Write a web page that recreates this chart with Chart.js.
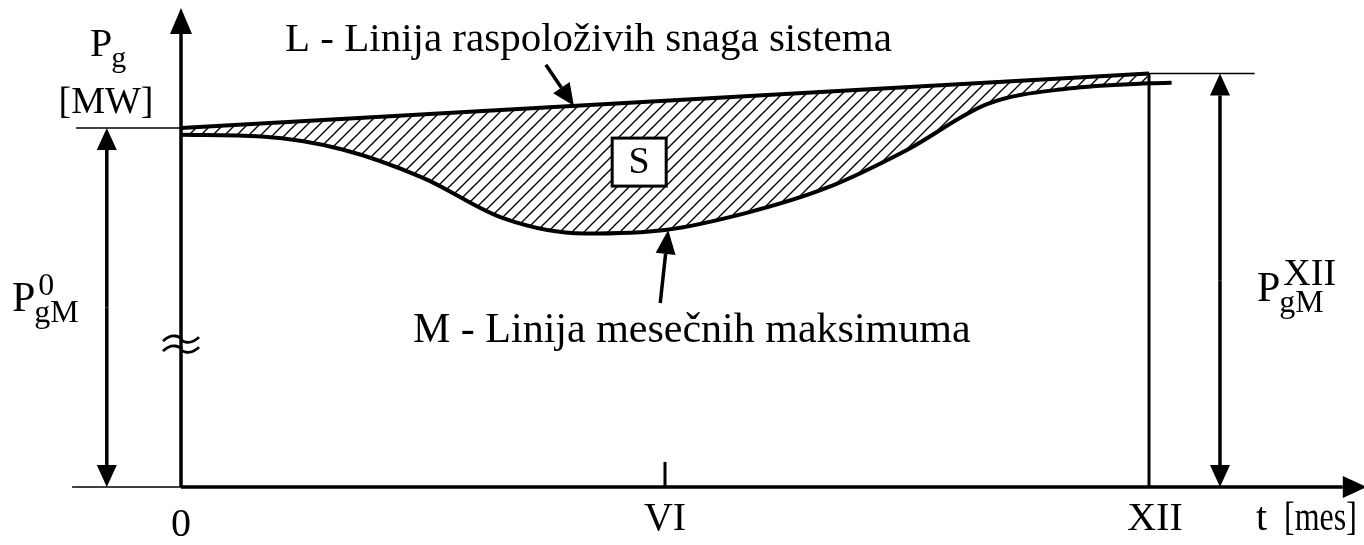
<!DOCTYPE html>
<html>
<head>
<meta charset="utf-8">
<title>Linija raspoloživih snaga</title>
<script src="https://cdn.jsdelivr.net/npm/chart.js@4.4.0/dist/chart.umd.min.js"></script>
<style>
  html, body { margin: 0; padding: 0; background: #fff; }
  canvas { display: block; }
</style>
</head>
<body>
<canvas id="myChart" width="1364" height="545"></canvas>
<script>
// L - linija raspolozivih snaga (mesec, snaga)
const mesecL = [0, 12];
const snagaL = [100, 115.2];

// M - linija mesecnih maksimuma
const mesecM = [0, 1, 2, 3, 4, 5, 6, 7, 8, 9, 10, 11, 12, 12.28];
const snagaM = [98.1, 97.6, 94.0, 86.1, 74.8, 70.6, 71.6, 76.3, 83.3, 93.9, 106.7, 111.0, 112.45, 112.6];

// oznake na vremenskoj osi
const tickMeseci = [0, 6, 12];
const tickOznake = ['0', 'VI', 'XII'];

const FONT = '"Liberation Serif", "Times New Roman", serif';

function napraviSrafuru() {
    const s = 12;
    const c = document.createElement('canvas');
    c.width = s;
    c.height = s;
    const g = c.getContext('2d');
    g.strokeStyle = '#000';
    g.lineWidth = 1.4;
    g.beginPath();
    g.moveTo(0, s); g.lineTo(s, 0);
    g.moveTo(-2, 2); g.lineTo(2, -2);
    g.moveTo(s - 2, s + 2); g.lineTo(s + 2, s - 2);
    g.stroke();
    return g.createPattern(c, 'repeat');
}

function strelica(ctx, x1, y1, x2, y2, sirina, duzina, debljina) {
    const ug = Math.atan2(y2 - y1, x2 - x1);
    const bx = x2 - Math.cos(ug) * duzina;
    const by = y2 - Math.sin(ug) * duzina;
    ctx.lineWidth = debljina;
    ctx.beginPath();
    ctx.moveTo(x1, y1);
    ctx.lineTo(bx, by);
    ctx.stroke();
    ctx.beginPath();
    ctx.moveTo(x2, y2);
    ctx.lineTo(bx + Math.sin(ug) * sirina / 2, by - Math.cos(ug) * sirina / 2);
    ctx.lineTo(bx - Math.sin(ug) * sirina / 2, by + Math.cos(ug) * sirina / 2);
    ctx.closePath();
    ctx.fill();
}

function linija(ctx, x1, y1, x2, y2, debljina) {
    ctx.lineWidth = debljina;
    ctx.beginPath();
    ctx.moveTo(x1, y1);
    ctx.lineTo(x2, y2);
    ctx.stroke();
}

// P sa indeksom i eksponentom
function oznakaP(ctx, x, y, indeks, eksponent, vel, velEksp) {
    ctx.textAlign = 'left';
    ctx.textBaseline = 'alphabetic';
    ctx.font = vel + 'px ' + FONT;
    ctx.fillText('P', x, y);
    const w = ctx.measureText('P').width;
    ctx.font = Math.round(vel * 0.76) + 'px ' + FONT;
    ctx.fillText(indeks, x + w - 1, y + vel * 0.27);
    if (eksponent) {
        ctx.font = (velEksp || Math.round(vel * 0.76)) + 'px ' + FONT;
        ctx.fillText(eksponent, x + w + 3, y - vel * 0.39);
    }
}

const skica = {
    id: 'skica',
    afterDatasetsDraw(chart) {
        const ctx = chart.ctx;
        const X = v => chart.scales.x.getPixelForValue(v);
        const Y = v => chart.scales.y.getPixelForValue(v);
        const p0 = snagaL[0];
        const p12 = snagaL[snagaL.length - 1];

        ctx.save();
        ctx.strokeStyle = '#000';
        ctx.fillStyle = '#000';

        // ose
        linija(ctx, X(-1.35), Y(0), X(0), Y(0), 1.5);
        strelica(ctx, X(0), Y(0), X(14.7), Y(0), 22, 24, 3.5);
        strelica(ctx, X(0), Y(0), X(0), Y(133.4), 22, 26, 3.5);

        // prekid ose
        ctx.lineWidth = 2.8;
        for (const dy of [-5, 5]) {
            const yc = Y(39.8) + dy;
            const xa = X(0) - 18;
            ctx.beginPath();
            ctx.moveTo(xa, yc + 2);
            ctx.bezierCurveTo(xa + 9, yc - 7, xa + 18, yc - 2, xa + 18, yc);
            ctx.bezierCurveTo(xa + 18, yc + 2, xa + 27, yc + 7, xa + 36, yc - 2);
            ctx.stroke();
        }

        // VI i XII
        linija(ctx, X(6), Y(0), X(6), Y(7), 3);
        linija(ctx, X(12), Y(0), X(12), Y(p12), 3);

        // pomocne linije
        linija(ctx, X(-1.30), Y(p0), X(0), Y(p0), 1.5);
        linija(ctx, X(12), Y(p12), X(13.31), Y(p12), 1.5);

        // kote
        strelica(ctx, X(-0.92), Y(p0 / 2), X(-0.92), Y(p0), 20, 22, 3.5);
        strelica(ctx, X(-0.92), Y(p0 / 2), X(-0.92), Y(0), 20, 22, 3.5);
        strelica(ctx, X(12.88), Y(p12 / 2), X(12.88), Y(p12), 20, 22, 3.5);
        strelica(ctx, X(12.88), Y(p12 / 2), X(12.88), Y(0), 20, 22, 3.5);

        // strelice na linijama
        const mL = 4.87;
        const vL = snagaL[0] + (snagaL[1] - snagaL[0]) * mL / 12;
        strelica(ctx, X(mL) - 28, Y(vL) - 41, X(mL), Y(vL), 20, 22, 3.5);
        strelica(ctx, X(6.04) - 8, Y(snagaM[6]) + 73, X(6.04), Y(snagaM[6]), 20, 24, 3.5);

        // S
        const sx = X(5.68), sy = Y(90.5);
        ctx.fillStyle = '#fff';
        ctx.fillRect(sx - 27, sy - 24, 54, 48);
        ctx.lineWidth = 3;
        ctx.strokeRect(sx - 27, sy - 24, 54, 48);
        ctx.fillStyle = '#000';
        ctx.font = '38px ' + FONT;
        ctx.textAlign = 'center';
        ctx.textBaseline = 'middle';
        ctx.fillText('S', sx, sy + 1);

        // tekstovi
        ctx.textBaseline = 'alphabetic';
        ctx.textAlign = 'left';
        ctx.font = '41px ' + FONT;
        ctx.fillText('L - Linija raspoloživih snaga sistema', 285, 51);
        ctx.font = '42px ' + FONT;
        ctx.fillText('M - Linija mesečnih maksimuma', 413, 342);

        ctx.textAlign = 'center';
        ctx.font = '40px ' + FONT;
        tickMeseci.forEach((m, i) => {
            const pomak = m === 12 ? 6 : 0;
            ctx.fillText(tickOznake[i], X(m) + pomak, m === 0 ? 536 : 530);
        });
        ctx.textAlign = 'left';
        ctx.fillText('t', 1256, 530);
        ctx.save();
        ctx.translate(1284, 530);
        ctx.scale(0.8, 1);
        ctx.fillText('[mes]', 0, 0);
        ctx.restore();

        ctx.textAlign = 'center';
        ctx.font = '38px ' + FONT;
        ctx.fillText('[MW]', 106, 113);

        oznakaP(ctx, 90, 56, 'g', null, 40);
        oznakaP(ctx, 12, 311, 'gM', '0', 42);
        oznakaP(ctx, 1257, 301, 'gM', 'XII', 42, 38);

        ctx.restore();
    }
};

// skale: 0 -> x=181, XII -> x=1149, P=0 -> y=487
const pxMesec = (1149 - 181) / 12;
const pxSnaga = (487 - 128) / 100;

new Chart(document.getElementById('myChart'), {
    type: 'line',
    data: {
        datasets: [{
            label: 'L',
            data: mesecL.map((m, i) => ({ x: m, y: snagaL[i] })),
            borderColor: '#000',
            borderWidth: 4,
            pointRadius: 0,
            tension: 0,
            fill: '+1',
            backgroundColor: napraviSrafuru()
        }, {
            label: 'M',
            data: mesecM.map((m, i) => ({ x: m, y: snagaM[i] })),
            borderColor: '#000',
            borderWidth: 4,
            pointRadius: 0,
            cubicInterpolationMode: 'monotone',
            fill: false
        }]
    },
    options: {
        responsive: false,
        animation: false,
        devicePixelRatio: 1,
        layout: { padding: 0 },
        scales: {
            x: {
                type: 'linear',
                display: false,
                min: -181 / pxMesec,
                max: (1364 - 181) / pxMesec
            },
            y: {
                type: 'linear',
                display: false,
                min: -(545 - 487) / pxSnaga,
                max: 487 / pxSnaga
            }
        },
        plugins: {
            legend: { display: false },
            tooltip: { enabled: false }
        }
    },
    plugins: [skica]
});
</script>
</body>
</html>
